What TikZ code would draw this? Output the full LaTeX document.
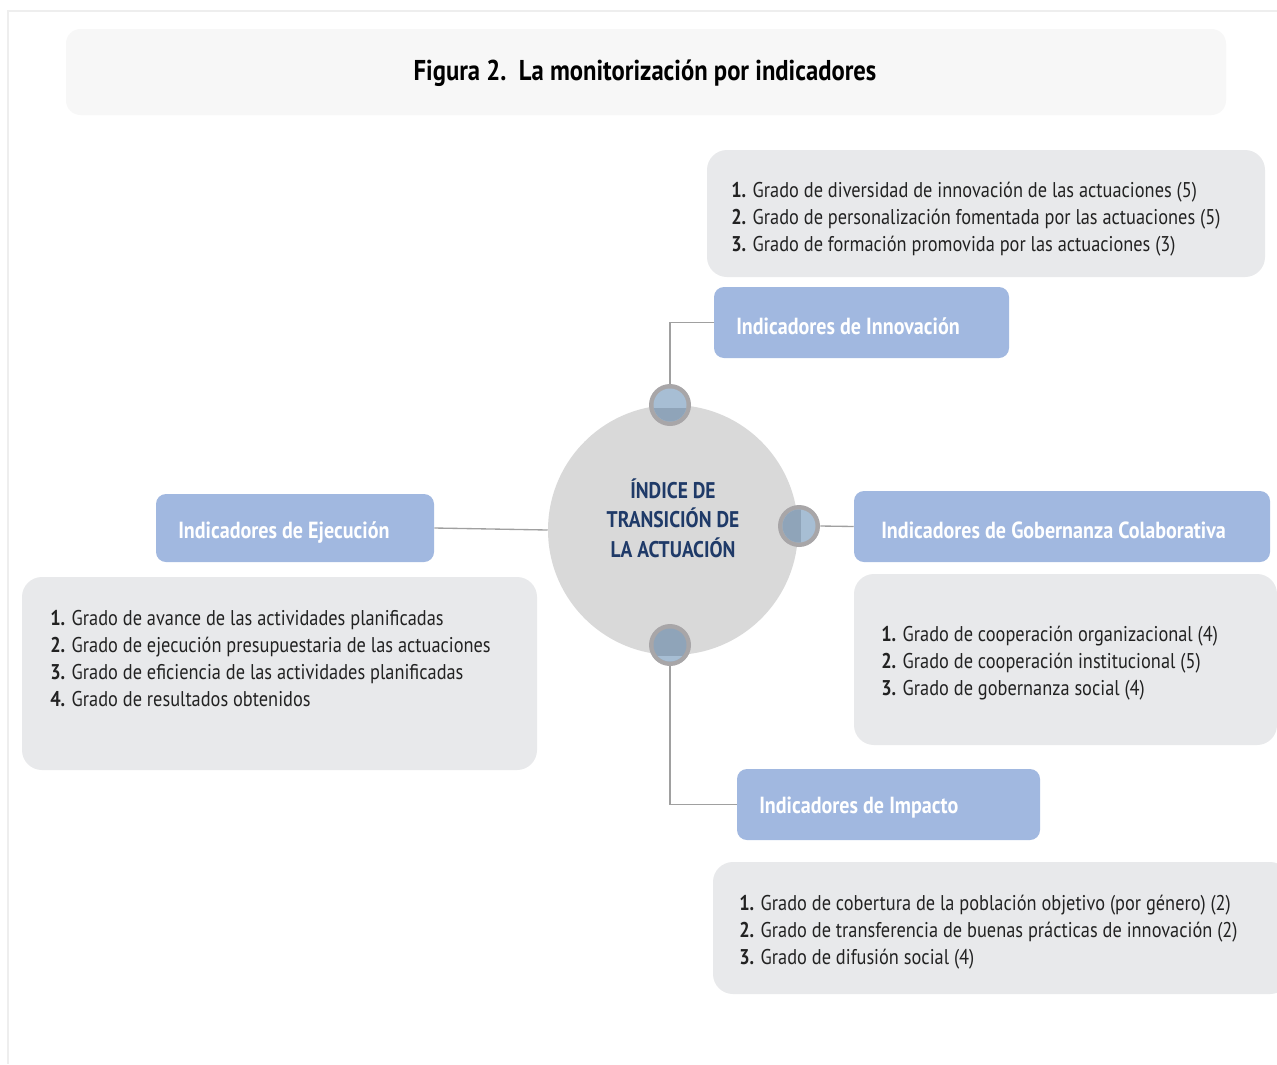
\documentclass[tikz,border=0pt]{standalone}
\usepackage{fontspec}
\setmainfont[FakeStretch=0.86]{PT Sans}
\usetikzlibrary{fit}
\definecolor{boxblue}{HTML}{A1B8E0}
\definecolor{listgray}{HTML}{E8E9EB}
\definecolor{titlegray}{HTML}{F7F7F7}
\definecolor{framegray}{HTML}{EEEEEE}
\definecolor{maingray}{HTML}{D9D9D9}
\definecolor{conngray}{HTML}{A0A0A0}
\definecolor{ringgray}{HTML}{A8A6A8}
\definecolor{dotlight}{HTML}{A7BED4}
\definecolor{dotdark}{HTML}{8FA4B9}
\definecolor{navy}{HTML}{1F3A68}
\definecolor{txt}{HTML}{222222}
\tikzset{
  bluebox/.style={fill=boxblue, rounded corners=7.5pt, inner sep=0pt},
  listbox/.style={fill=listgray, rounded corners=15pt, inner sep=0pt},
  lbl/.style={text=white, font=\bfseries\fontsize{17.5}{20}\selectfont, anchor=west, inner sep=0pt},
  listtxt/.style={text=txt, font=\fontsize{16}{20.25}\selectfont, align=left, anchor=west, inner sep=0pt},
  conn/.style={draw=conngray, line width=1pt},
  dotring/.style={circle, fill=ringgray, minimum size=31.5pt, inner sep=0pt},
}
\begin{document}
\begin{tikzpicture}[x=0.75pt,y=-0.75pt]
\useasboundingbox (0,0) rectangle (1277,1064);
\fill[white] (0,0) rectangle (1277,1064);
% frame
\draw[framegray, line width=1.5pt] (8,1064) -- (8,11) -- (1277,11);
% title
\node[fill=titlegray, rounded corners=11pt, inner sep=0pt, fit={(66,29) (1226,115)}] (titlebox) {};
\node[font=\bfseries\fontsize{21.5}{24}\selectfont, text=black] (title) at (645,73) {Figura 2.\ \ La monitorización por indicadores};

% main circle
\node[circle, fill=maingray, minimum size=187.5pt, inner sep=0pt] (main) at (673,530) {};
\node[align=center, text=navy, font=\bfseries\fontsize{17}{22}\selectfont] (maintxt) at (673,518) {ÍNDICE DE\\TRANSICIÓN DE\\LA ACTUACIÓN};

% boxes
\node[bluebox, fit={(714,287) (1009,358)}] (innov) {};
\node[lbl] (innovl) at (736,326) {Indicadores de Innovación};
\node[listbox, fit={(707,150) (1265,277)}] (innovlist) {};
\node[listtxt] (innovt) at (731,219) {\textbf{1.} Grado de diversidad de innovación de las actuaciones (5)\\\textbf{2.} Grado de personalización fomentada por las actuaciones (5)\\\textbf{3.} Grado de formación promovida por las actuaciones (3)};

\node[bluebox, fit={(854,491) (1270,562)}] (gob) {};
\node[lbl] (gobl) at (881,530) {Indicadores de Gobernanza Colaborativa};
\node[listbox, fit={(854,574) (1277,745)}] (goblist) {};
\node[listtxt] (gobt) at (881,663) {\textbf{1.} Grado de cooperación organizacional (4)\\\textbf{2.} Grado de cooperación institucional (5)\\\textbf{3.} Grado de gobernanza social (4)};

\node[bluebox, fit={(737,769) (1040,840)}] (imp) {};
\node[lbl] (impl) at (759,808) {Indicadores de Impacto};
\node[listbox, fit={(713,862) (1290,994)}] (implist) {};
\node[listtxt] (impt) at (739,932) {\textbf{1.} Grado de cobertura de la población objetivo (por género) (2)\\\textbf{2.} Grado de transferencia de buenas prácticas de innovación (2)\\\textbf{3.} Grado de difusión social (4)};

\node[bluebox, fit={(156,494) (434,562)}] (ejec) {};
\node[lbl] (ejecl) at (178,533) {Indicadores de Ejecución};
\node[listbox, fit={(22,577) (537,770)}] (ejeclist) {};
\node[listtxt] (eject) at (50,658.5) {\textbf{1.} Grado de avance de las actividades planificadas\\\textbf{2.} Grado de ejecución presupuestaria de las actuaciones\\\textbf{3.} Grado de eficiencia de las actividades planificadas\\\textbf{4.} Grado de resultados obtenidos};

% dots
\node[dotring] (topdot) at (670,405) {};
\node[dotring] (rightdot) at (799,526) {};
\node[dotring] (botdot) at (670,645) {};
\begin{scope}
  \clip (670,405) circle (16.5);
  \fill[dotlight] (650,385) rectangle (690,425);
  \fill[dotdark] (650,408) rectangle (690,425);
\end{scope}
\begin{scope}
  \clip (799,526) circle (16.5);
  \fill[dotlight] (779,506) rectangle (819,546);
  \fill[dotdark] (779,506) rectangle (801,546);
\end{scope}
\begin{scope}
  \clip (670,645) circle (16.5);
  \fill[dotdark] (650,625) rectangle (690,665);
  \fill[dotlight] (650,656) rectangle (690,665);
\end{scope}

% connectors
\draw[conn] (topdot.north) |- (innov.west);
\draw[conn] (rightdot.east) -- (gob.west);
\draw[conn] (botdot.south) |- (imp.west);
\draw[conn] (ejec.east) -- (main.west);
\end{tikzpicture}
\end{document}
